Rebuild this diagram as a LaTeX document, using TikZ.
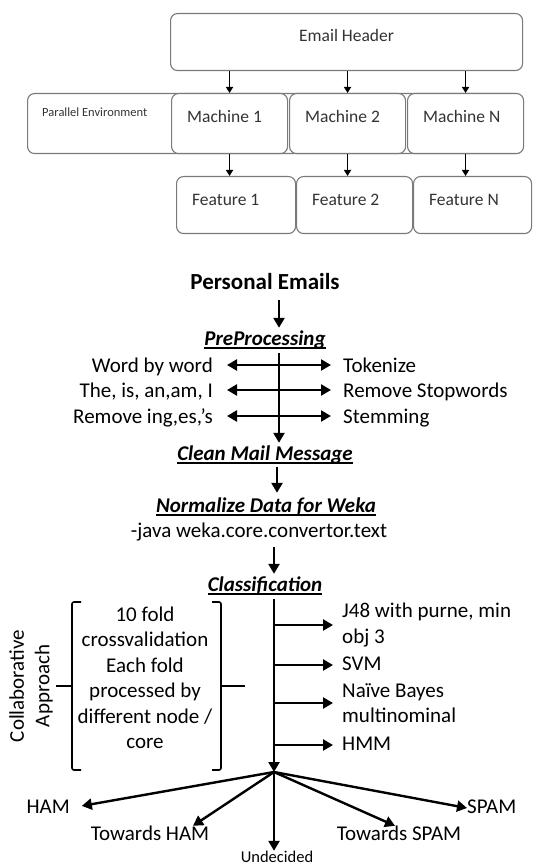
\documentclass[tikz,border=0pt]{standalone}
\usepackage{fontspec}
\setmainfont{Carlito}
\usetikzlibrary{arrows.meta,calc,positioning}

\definecolor{boxgray}{HTML}{7A7A7A}
\definecolor{txtgray}{HTML}{333333}

% thick underline for the step titles
\newcommand{\stepul}[1]{\setbox0\hbox{#1}\rlap{\rule[-3.5pt]{\wd0}{1.3pt}}\box0}

\begin{document}
\begin{tikzpicture}[x=1pt, y=-1pt,
    box/.style={draw=boxgray, line width=1.1pt, rounded corners=7pt, fill=white, inner sep=0pt, anchor=north west},
    boxtext/.style={text=txtgray, font=\fontsize{17.5}{20}\selectfont, inner sep=0pt},
    thin/.style={draw, line width=1.5pt, -{Triangle[length=6pt,width=7pt]}},
    flow/.style={draw, line width=2.4pt, -{Triangle[length=10pt,width=11pt]}},
    both/.style={flow, {Triangle[length=10pt,width=11pt]}-{Triangle[length=10pt,width=11pt]}},
    word/.style={font=\fontsize{21}{25.5}\selectfont, inner sep=0pt, text height=14pt, text depth=4pt},
    lines/.style={font=\fontsize{21}{25.5}\selectfont, inner sep=0pt},
    head/.style={font=\fontsize{21}{25}\selectfont\bfseries\itshape, inner sep=0pt, text height=14pt, text depth=4pt},
    brk/.style={draw, line width=1.6pt, rounded corners=2pt}
]
\useasboundingbox (0,0) rectangle (533,866);

%% parallel feature extraction
\node[box, minimum width=352pt, minimum height=57pt] (header) at (170,13) {};
\node[boxtext] (headerlbl) at ([yshift=6.5pt]header.center) {Email Header};

\node[box, minimum width=495pt, minimum height=60pt] (parallel) at (27,93) {};
\node[boxtext, anchor=west, font=\fontsize{12.5}{14}\selectfont] (parlbl) at (42,112) {Parallel Environment};

\foreach \x/\n/\t in {171/m1/Machine 1, 289/m2/Machine 2, 407/mn/Machine N} {
  \node[box, minimum width=116pt, minimum height=60pt] (\n) at (\x,93) {};
  \node[boxtext, anchor=west] (\n lbl) at ([xshift=16pt,yshift=7pt]\n.west) {\t};
}
\foreach \x/\w/\n/\t in {176/119/f1/Feature 1, 296/116/f2/Feature 2, 413/118/fn/Feature N} {
  \node[box, minimum width=\w pt, minimum height=57pt] (\n) at (\x,176) {};
  \node[boxtext, anchor=west] (\n lbl) at ([xshift=16pt,yshift=5.5pt]\n.west) {\t};
}

\foreach \n/\f in {m1/f1, m2/f2, mn/fn} {
  \draw[thin] (header.south -| \n) -- (\n.north);
  \draw[thin] (\n.south) -- (\n.south |- \f.north);
}

%% processing chain
\coordinate (spineA) at (279,0);
\coordinate (spineB) at (277,0);
\coordinate (spineC) at (274,0);
\coordinate (hub) at (274,772);

\node[head, font=\fontsize{23}{26}\selectfont\bfseries] (emails) at (265,285) {Personal Emails};
\node[head] (pre) at (265,340) {\stepul{PreProcessing}};

\node[word, anchor=east] (w1) at (213,367) {Word by word};
\node[word, anchor=east] (w2) at (213,392) {The, is, an,am, I};
\node[word, anchor=east] (w3) at (213,418) {Remove ing,es,’s};
\node[word, anchor=west] (t1) at (343,367) {Tokenize};
\node[word, anchor=west] (t2) at (343,392) {Remove Stopwords};
\node[word, anchor=west] (t3) at (343,418) {Stemming};

\node[head] (clean) at (265,455) {\stepul{Clean Mail Message}};
\node[head] (norm) at (266,507) {\stepul{Normalize Data for Weka}};
\node[word] (java) at (259,532) {-java weka.core.convertor.text};
\node[head] (class) at (265,586) {\stepul{Classification}};

\draw[flow, shorten <=6pt, shorten >=3pt] (emails.south -| spineA) -- (pre.north -| spineA);
\draw[flow, shorten <=4pt, shorten >=3pt] (pre.south -| spineA) -- (clean.north -| spineA);
\foreach \i in {1,2,3}
  \draw[both, shorten <=14pt, shorten >=12pt] ([yshift=2pt]w\i.east) -- ([yshift=2pt]t\i.west);
\draw[flow, shorten <=3pt, shorten >=5pt] (clean.south -| spineB) -- (norm.north -| spineB);
\draw[flow, shorten <=6pt, shorten >=3pt] (java.south -| spineC) -- (class.north -| spineC);

%% classifiers
\node[lines, anchor=west, align=left] (j48) at (342,625) {J48 with purne, min\\obj 3};
\node[word, anchor=west] (svm) at (342,665) {SVM};
\node[lines, anchor=west, align=left] (nb) at (342,703) {Naïve Bayes\\multinominal};
\node[word, anchor=west] (hmm) at (342,745) {HMM};

\draw[flow, shorten <=4pt] (class.south -| hub) -- (hub);
\foreach \n in {j48, svm, nb, hmm}
  \draw[flow, shorten >=9pt] (\n.west -| spineC) -- (\n.west);

%% cross validation group
\node[lines, align=center] (folds) at (145,678) {10 fold\\crossvalidation\\Each fold\\processed by\\different node /\\core};
\node[lines, align=center, rotate=90] (collab) at (31,686) {Collaborative\\Approach};
\draw[brk] (81,602) -- (72,602) -- (72,770) -- (81,770);
\draw[brk] (72,686) -- (56,686);
\draw[brk] (212,602) -- (221,602) -- (221,770) -- (212,770);
\draw[brk] (221,686) -- (245,686);

%% decisions
\node[word, anchor=east] (ham) at (70,808) {HAM};
\node[word] (tham) at (150,835) {Towards HAM};
\node[word, font=\fontsize{16.5}{19}\selectfont, text height=11pt, text depth=3pt] (undec) at (277,858) {Undecided};
\node[word] (tspam) at (399,835) {Towards SPAM};
\node[word, anchor=west] (spam) at (467,808) {SPAM};

\draw[flow, shorten >=12pt] (hub) -- (ham.east);
\draw[flow] (hub) -- ([xshift=43pt]tham.north);
\draw[flow] (hub) -- (hub |- undec.north);
\draw[flow] (hub) -- ([xshift=-4pt]tspam.north);
\draw[flow] (hub) -- (spam.west);

\end{tikzpicture}
\end{document}
